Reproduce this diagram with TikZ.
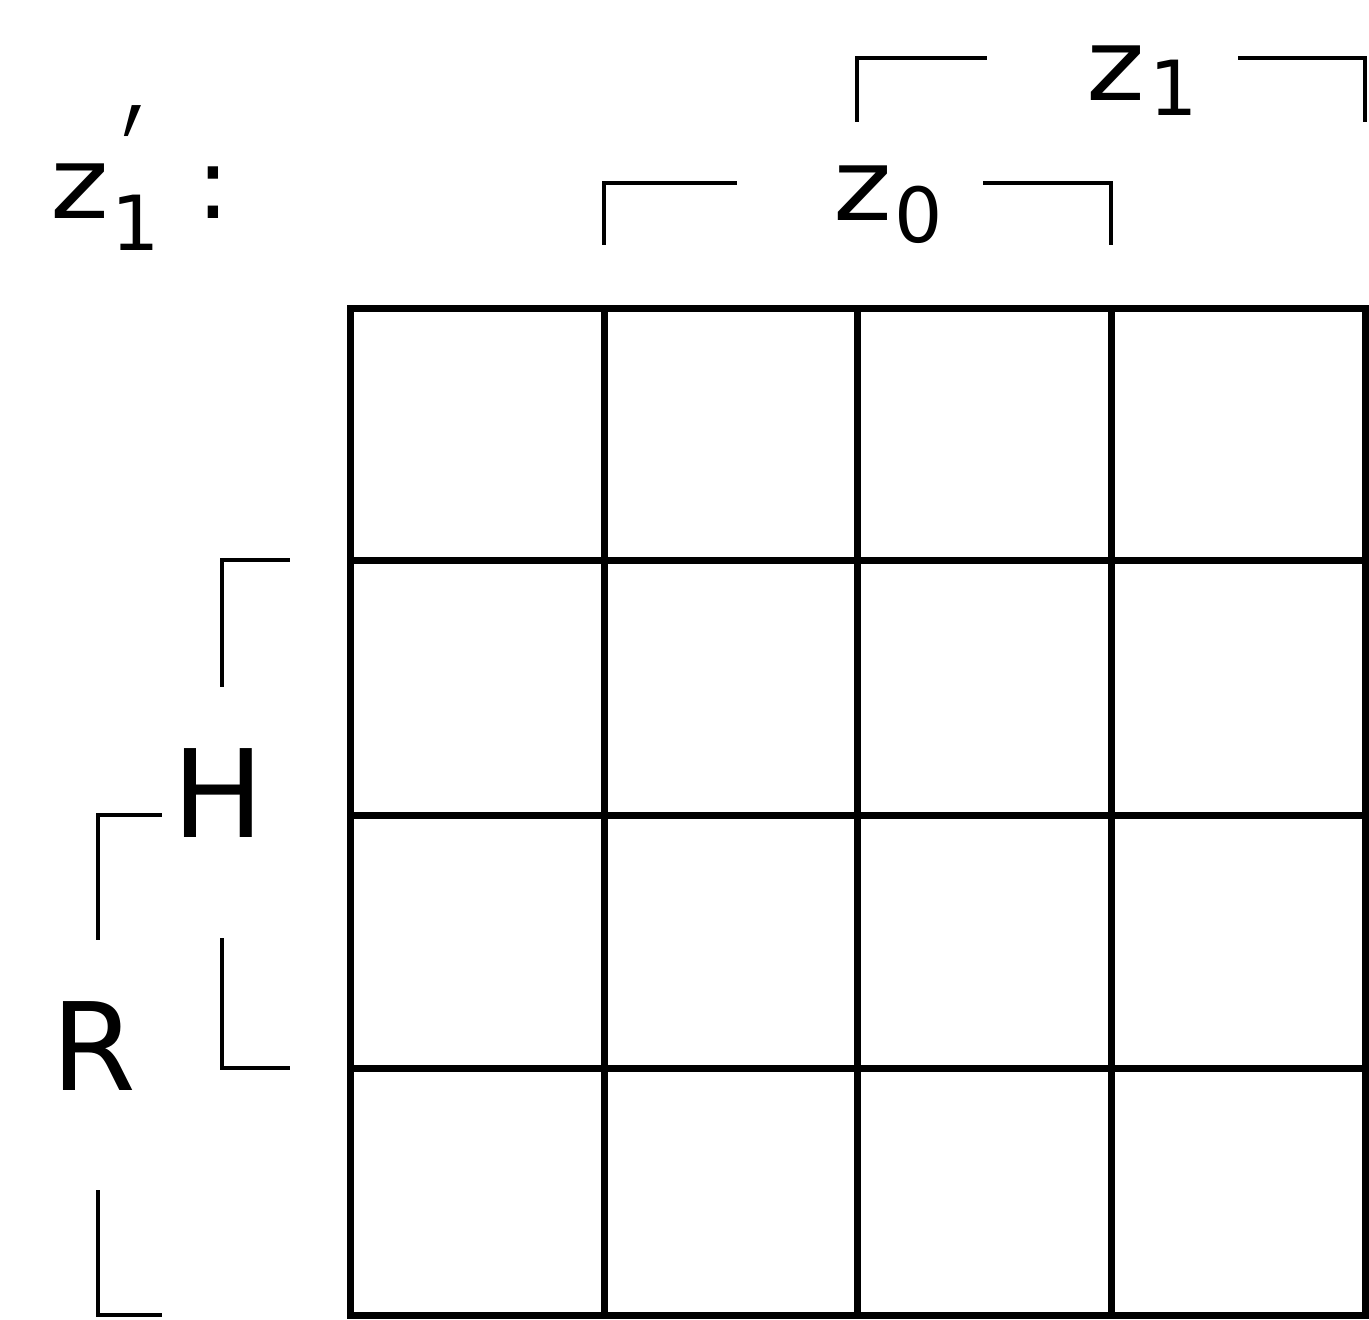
\documentclass[tikz,border=0pt]{standalone}
\usepackage{fontspec}
\setmainfont{DejaVu Sans}
\newfontfamily\zfont[FakeStretch=1.12]{DejaVu Sans}
\newcommand{\subfnt}{\rmfamily\fontsize{76}{76}\selectfont}
\newcommand{\primefnt}{\rmfamily\fontsize{170}{170}\selectfont}
\begin{document}
\begin{tikzpicture}[x=1pt,y=-1pt,
  gridline/.style={line width=7pt, line cap=rect},
  brk/.style={line width=4pt, line cap=rect},
  lbl/.style={inner sep=0pt, font=\zfont\fontsize{100}{100}\selectfont},
  biglbl/.style={inner sep=0pt, font=\fontsize{122}{122}\selectfont}]
\useasboundingbox (0,0) rectangle (1369,1320);
% grid
\draw[gridline] (350,308) rectangle (1365,1315);
\foreach \x in {604,857,1111} \draw[gridline] (\x,308) -- (\x,1315);
\foreach \y in {560,815,1068} \draw[gridline] (350,\y) -- (1365,\y);
% labels
\node[lbl, anchor=base west] (zp) at (50,218)
  {z\kern3pt\raisebox{-32pt}{\subfnt 1}\llap{\raisebox{-11pt}{\scalebox{0.55}[1]{\primefnt ′}}\kern17pt}\kern36pt{\rmfamily :}};
\node[lbl, anchor=base west] (zo) at (833,220)
  {z\kern3pt\raisebox{-22pt}{\subfnt 0}};
\node[lbl, anchor=base west] (zi) at (1086,100)
  {z\kern5pt\raisebox{-15pt}{\subfnt 1}};
\node[biglbl, anchor=base] (H) at (218,837) {H};
\node[biglbl, anchor=base] (R) at (94,1090) {R};
% z0 bracket
\draw[brk] (604,243) -- (604,183) -- (735,183);
\draw[brk] (985,183) -- (1111,183) -- (1111,243);
% z1 bracket
\draw[brk] (857,120) -- (857,58) -- (985,58);
\draw[brk] (1240,58) -- (1365,58) -- (1365,120);
% H bracket
\draw[brk] (288,560) -- (222,560) -- (222,685);
\draw[brk] (222,940) -- (222,1068) -- (288,1068);
% R bracket
\draw[brk] (160,815) -- (98,815) -- (98,938);
\draw[brk] (98,1192) -- (98,1315) -- (160,1315);
\end{tikzpicture}
\end{document}
